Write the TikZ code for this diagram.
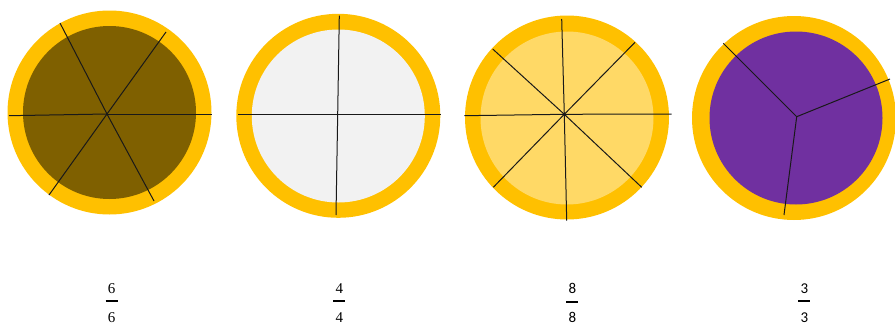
\documentclass[tikz,border=0pt]{standalone}
\usepackage{fontspec}
\newfontfamily\serifnum{Liberation Serif}
\newfontfamily\sansnum{Carlito}
\usetikzlibrary{positioning}

\definecolor{rim}{HTML}{FFC000}
\definecolor{choco}{HTML}{7F6000}
\definecolor{paper}{HTML}{F2F2F2}
\definecolor{butter}{HTML}{FFD966}
\definecolor{plum}{HTML}{7030A0}

\begin{document}
\begin{tikzpicture}[
            x=1pt, y=-1pt,
            crust/.style={
                circle,
                fill=rim,
                minimum size=204pt,
                inner sep=0pt
            },
            filling/.style={
                circle,
                minimum size=173pt,
                inner sep=0pt
            },
            cut/.style={
                black!90,
                line width=1pt
            },
            frac/.style={
                align=center,
                inner sep=0pt,
                font=\fontsize{15}{14.5}\selectfont
            }
        ]
            \useasboundingbox (0,0) rectangle (895,324);

            % crusts and fillings
            \node [crust] (crust1) at (109.5,112.5) {};
            \node [filling, fill=choco] (fill1) at (109.5,112.5) {};
            \node [crust] (crust2) at (338.3,115.8) {};
            \node [filling, fill=paper] (fill2) at (338.3,116) {};
            \node [crust] (crust3) at (567,117.5) {};
            \node [filling, fill=butter] (fill3) at (567,118) {};
            \node [crust] (crust4) at (794,118) {};
            \node [filling, fill=plum] (fill4) at (796,118) {};

            % slices
            \coordinate (mid1) at (107,114);
            \coordinate (mid2) at (337.7,114);
            \coordinate (mid3) at (564.3,114.3);
            \coordinate (mid4) at (796.7,116.7);

            \foreach \p in {(9,115.7),(212,114),(60,23),(154,201),(166,32),(49,195)}
                \draw [cut] (mid1) -- \p;
            \foreach \p in {(339.3,15.7),(336,215),(238.3,114),(440.7,114)}
                \draw [cut] (mid2) -- \p;
            \foreach \p in {(561.7,19),(566.7,220.7),(464.3,115.7),(671.7,114),
                            (492.7,49),(641.7,187.3),(635,42.3),(493.3,187.3)}
                \draw [cut] (mid3) -- \p;
            \foreach \p in {(723.3,43.3),(890,79),(784,215)}
                \draw [cut] (mid4) -- \p;

            % fractions
            \node [frac] (frac1) at (111.7,303) {\serifnum 6\\\rule[5.5pt]{12pt}{2pt}\\\serifnum 6};
            \node [frac] (frac2) at (339.3,303) {\serifnum 4\\\rule[5.5pt]{12pt}{2pt}\\\serifnum 4};
            \node [frac] (frac3) at (572.3,303) {\sansnum 8\\\rule[5.5pt]{12pt}{2pt}\\\sansnum 8};
            \node [frac] (frac4) at (804.3,303) {\sansnum 3\\\rule[5.5pt]{12pt}{2pt}\\\sansnum 3};

        \end{tikzpicture}
\end{document}
